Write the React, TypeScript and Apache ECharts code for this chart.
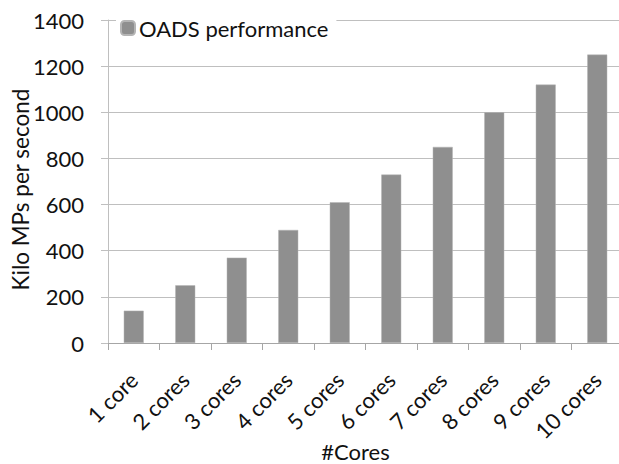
import React, { useEffect, useRef } from "react";
import * as echarts from "echarts";

const categories = ["1 core", "2 cores", "3 cores", "4 cores", "5 cores", "6 cores", "7 cores", "8 cores", "9 cores", "10 cores"];
const performance = [140, 250, 370, 490, 610, 730, 850, 1000, 1120, 1250];
const seriesName = "OADS performance";
const yTitle = "Kilo MPs per second";
const xTitle = "#Cores";

const FONT = "Lato";
const TEXT = "#111111";

export default function App() {
  const ref = useRef<HTMLDivElement>(null);
  useEffect(() => {
    if (!ref.current) return;
    const chart = echarts.init(ref.current, null, { renderer: "svg" });
    chart.setOption({
      animation: false,
      backgroundColor: "#ffffff",
      textStyle: { fontFamily: FONT },
      grid: { left: 108, right: -4, top: 20, bottom: 121, containLabel: false, outerBoundsMode: "none" },
      legend: {
        data: [seriesName],
        left: 116,
        top: 15,
        itemWidth: 14,
        itemHeight: 14,
        itemGap: 5,
        padding: [2, 8, 2, 4],
        backgroundColor: "#ffffff",
        textStyle: { fontFamily: FONT, fontSize: 22, color: TEXT, padding: [0, 0, 0, -1] },
      },
      xAxis: {
        type: "category",
        data: categories,
        name: xTitle,
        nameLocation: "middle",
        nameGap: 97,
        nameMoveOverlap: false,
        nameTextStyle: { fontFamily: FONT, fontSize: 22, color: TEXT, padding: [0, 20, 0, 0] },
        axisLine: { lineStyle: { color: "#a6a6a6", width: 1 } },
        axisTick: { show: true, length: 7, lineStyle: { color: "#a6a6a6" } },
        axisLabel: { rotate: 45, fontFamily: FONT, fontSize: 22, color: TEXT, margin: 33, interval: 0 },
      },
      yAxis: {
        type: "value",
        min: 0,
        max: 1400,
        interval: 200,
        name: yTitle,
        nameLocation: "middle",
        nameGap: 76,
        nameMoveOverlap: false,
        nameTextStyle: { fontFamily: FONT, fontSize: 22.5, color: TEXT, padding: [0, 16, 0, 0] },
        axisLine: { show: true, lineStyle: { color: "#bfbfbf" } },
        axisTick: { show: true, length: 7, lineStyle: { color: "#bfbfbf" } },
        axisLabel: { fontFamily: FONT, fontSize: 22, color: TEXT, margin: 24, formatter: (v: number) => String(v) },
        splitLine: { lineStyle: { color: "#bfbfbf", width: 1 } },
      },
      series: [
        {
          name: seriesName,
          type: "bar",
          data: performance,
          barWidth: 20,
          itemStyle: { color: "#8f8f8f", borderColor: "#b5b5b5", borderWidth: 0.5 },
        },
      ],
    });
    return () => chart.dispose();
  }, []);
  return <div ref={ref} style={{ width: 619, height: 464, position: "absolute", left: 0, top: 0 }} />;
}
